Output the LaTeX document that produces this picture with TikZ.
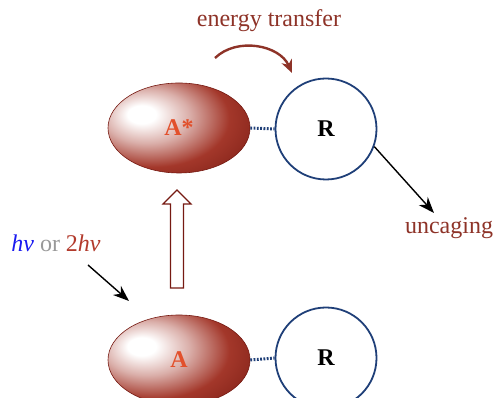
\documentclass[tikz,border=0pt]{standalone}
\usepackage{fontspec}
\setmainfont{Liberation Serif}
\usetikzlibrary{shapes.geometric,arrows.meta}
\definecolor{darkbrown}{HTML}{761A12}
\definecolor{midred}{HTML}{A3372A}
\definecolor{textred}{HTML}{8E3328}
\definecolor{labelred}{HTML}{E2502C}
\definecolor{rblue}{HTML}{1F3F78}
\definecolor{hvblue}{HTML}{1A1AF0}
\definecolor{hvred}{HTML}{B23A2C}
\pgfdeclareradialshading{ballred}{\pgfpoint{-14bp}{8bp}}{%
  color(0bp)=(white);
  color(5bp)=(white);
  color(15bp)=(midred!40!white);
  color(27bp)=(midred);
  color(44bp)=(darkbrown);
  color(80bp)=(darkbrown)}
\tikzset{
  ball/.style={ellipse, minimum width=142pt, minimum height=90pt, inner sep=0pt,
    shading=ballred, draw=darkbrown, line width=0.6pt,
    font=\fontsize{24}{27}\selectfont\bfseries, text=labelred},
  rcirc/.style={circle, minimum size=101pt, inner sep=0pt, draw=rblue, line width=1.8pt,
    font=\fontsize{24}{27}\selectfont\bfseries},
  link/.style={rblue, line width=3pt, dash pattern=on 1.8pt off 1.5pt},
  lbl/.style={font=\fontsize{24}{27}\selectfont, text=textred},
  blackarrow/.style={line width=1.4pt, -{Stealth[length=16pt,width=12pt,inset=5pt]}},
}
\begin{document}
\begin{tikzpicture}[x=1pt,y=1pt]
\useasboundingbox (0,0) rectangle (493,398);
\clip (0,0) rectangle (493,398);
% top pair
\node[ball] (Astar) at (179,270) {A*};
\node[rcirc] (Rtop) at (326,269) {R};
\draw[link] (Astar.east) -- (Rtop.west);
% bottom pair
\node[ball] (A) at (179,38) {A};
\node[rcirc] (Rbot) at (326,40) {R};
\draw[link] (A.east) -- (Rbot.west);
% energy transfer
\node[lbl] (et) at (269,377) {energy transfer};
\coordinate (et1) at (215,340);
\coordinate (et2) at (292,325);
\draw[textred, line width=2.4pt, -{Stealth[length=13pt,width=11pt,inset=4pt]}]
  (et1) to[bend left=55] (et2);
% hollow excitation arrow
\draw[darkbrown, fill=white, line width=1.2pt]
  (170.5,110) -- (183.5,110) -- (183.5,194) -- (191,194) -- (177,208) -- (163,194) -- (170.5,194) -- cycle;
% light
\node[font=\fontsize{24}{27}\selectfont] (hv) at (56,155)
  {\textcolor{hvblue}{\itshape hν} \textcolor{black!40}{or} \textcolor{hvred}{2\itshape hν}};
\coordinate (hvs) at (88,133);
\coordinate (hve) at (129,97);
\draw[blackarrow] (hvs) -- (hve);
% uncaging
\node[lbl] (unc) at (449,170) {uncaging};
\coordinate (unce) at (434,185);
\draw[blackarrow] (Rtop.-20) -- (unce);
\end{tikzpicture}
\end{document}
